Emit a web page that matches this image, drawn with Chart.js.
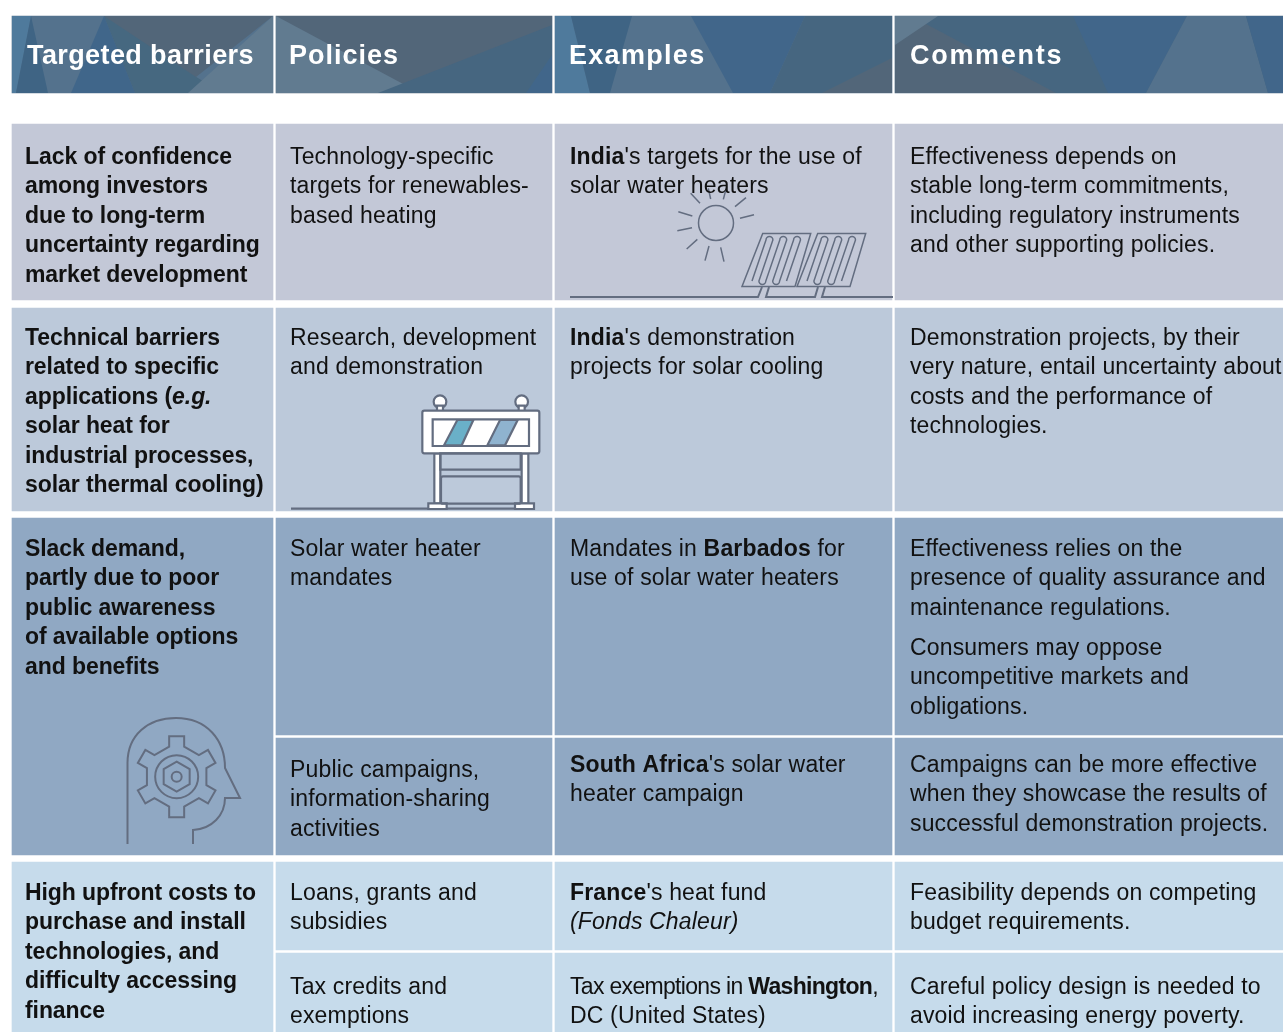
<!DOCTYPE html>
<html>
<head>
<meta charset="utf-8">
<title>Targeted barriers</title>
<script src="https://cdn.jsdelivr.net/npm/chart.js@4"></script>
<style>
  html, body { margin: 0; padding: 0; background: #fff; }
  canvas { display: block; }
</style>
</head>
<body>
<canvas id="tabel" width="1283" height="1032"></canvas>
<script>
// Isi tabel
const headers = ['Targeted barriers', 'Policies', 'Examples', 'Comments'];

const barriers = [
  ['Lack of confidence', 'among investors', 'due to long-term', 'uncertainty regarding', 'market development'],
  ['Technical barriers', 'related to specific', 'applications (_e.g._', 'solar heat for', 'industrial processes,', 'solar thermal cooling)'],
  ['Slack demand,', 'partly due to poor', 'public awareness', 'of available options', 'and benefits'],
  ['High upfront costs to', 'purchase and install', 'technologies, and', 'difficulty accessing', 'finance']
];

const policies = [
  ['Technology-specific', 'targets for renewables-', 'based heating'],
  ['Research, development', 'and demonstration'],
  ['Solar water heater', 'mandates'],
  ['Public campaigns,', 'information-sharing', 'activities'],
  ['Loans, grants and', 'subsidies'],
  ['Tax credits and', 'exemptions']
];

const examples = [
  ["**India**'s targets for the use of", 'solar water heaters'],
  ["**India**'s demonstration", 'projects for solar cooling'],
  ['Mandates in **Barbados** for', 'use of solar water heaters'],
  ["**South Africa**'s solar water", 'heater campaign'],
  ["**France**'s heat fund", '_(Fonds Chaleur)_'],
  ['Tax exemptions in **Washington**,', 'DC (United States)']
];

const comments = [
  ['Effectiveness depends on', 'stable long-term commitments,', 'including regulatory instruments', 'and other supporting policies.'],
  ['Demonstration projects, by their', 'very nature, entail uncertainty about', 'costs and the performance of', 'technologies.'],
  ['Effectiveness relies on the', 'presence of quality assurance and', 'maintenance regulations.'],
  ['Consumers may oppose', 'uncompetitive markets and', 'obligations.'],
  ['Campaigns can be more effective', 'when they showcase the results of', 'successful demonstration projects.'],
  ['Feasibility depends on competing', 'budget requirements.'],
  ['Careful policy design is needed to', 'avoid increasing energy poverty.']
];

// Kolom dan baris tabel, satuan sumbu sama dengan piksel gambar
const columnLeft = [12, 276, 555, 895];
const columnRight = [273, 552, 892, 1283];
const headerSpan = [16, 93];
const spansFirst = [[124, 300], [308, 511], [518, 855], [862, 1032]];
const spansOther = [[124, 300], [308, 511], [518, 735], [738, 855], [862, 950], [953, 1032]];

const rowColors = ['#c3c8d7', '#bcc9da', '#90a8c3', '#c6dbeb'];
const otherColors = ['#c3c8d7', '#bcc9da', '#90a8c3', '#90a8c3', '#c6dbeb', '#c6dbeb'];
const headerColors = ['#54728d', '#526679', '#54728d', '#466680'];
const ink = '#636d80';

// Segitiga latar kepala tabel
const headerShapes = [
  ['#4f7a9c', [[12, 16], [31, 16], [16, 93], [12, 93]]],
  ['#3f6484', [[31, 16], [48, 93], [16, 93]]],
  ['#526679', [[104, 16], [273, 16], [196, 77], [222, 93], [135, 93]]],
  ['#466880', [[104, 16], [135, 93], [222, 93], [196, 77]]],
  ['#40668a', [[104, 16], [135, 93], [71, 93]]],
  ['#617b90', [[273, 16], [273, 93], [188, 93]]],
  ['#617b90', [[276, 16], [420, 93], [276, 93]]],
  ['#466680', [[552, 25], [552, 93], [378, 93]]],
  ['#41668a', [[552, 55], [552, 93], [526, 93]]],
  ['#4f7a9c', [[555, 16], [571, 16], [590, 93], [555, 93]]],
  ['#3f6484', [[571, 16], [632, 16], [610, 93], [590, 93]]],
  ['#41668a', [[691, 16], [805, 16], [770, 93], [733, 93]]],
  ['#466680', [[805, 16], [892, 16], [892, 93], [770, 93]]],
  ['#526679', [[892, 58], [892, 93], [822, 93]]],
  ['#526679', [[911, 16], [1056, 93], [895, 93], [895, 45]]],
  ['#617b90', [[895, 16], [938, 16], [895, 45]]],
  ['#41668a', [[1073, 16], [1187, 16], [1146, 93], [1108, 93]]],
  ['#54728d', [[1187, 16], [1246, 16], [1268, 93], [1146, 93]]],
  ['#41668a', [[1246, 16], [1283, 16], [1283, 93], [1268, 93]]]
];

// Dataset batang mengambang: satu dataset per kolom
function buildColumn(i, spans, colors) {
  const mid = (columnLeft[i] + columnRight[i]) / 2;
  return {
    label: headers[i],
    data: [{ x: mid, y: headerSpan }].concat(spans.map(s => ({ x: mid, y: s }))),
    backgroundColor: [headerColors[i]].concat(colors),
    barThickness: columnRight[i] - columnLeft[i],
    grouped: false,
    borderWidth: 0
  };
}

function poly(ctx, sc, pts) {
  ctx.beginPath();
  pts.forEach((p, i) => {
    const x = sc.x.getPixelForValue(p[0]), y = sc.y.getPixelForValue(p[1]);
    if (i === 0) ctx.moveTo(x, y); else ctx.lineTo(x, y);
  });
}

const bodyFont = '"Liberation Sans", Arial, sans-serif';

// Tulis satu baris dengan **tebal** dan _miring_
function writeLine(ctx, line, x, y, size, allBold) {
  let cx = x;
  line.split(/(\*\*[^*]+\*\*|_[^_]+_)/).filter(Boolean).forEach(part => {
    let style = allBold ? 'bold ' : '';
    let t = part;
    if (part.startsWith('**')) { style = 'bold '; t = part.slice(2, -2); }
    else if (part.startsWith('_')) { style = (allBold ? 'italic bold ' : 'italic '); t = part.slice(1, -1); }
    ctx.font = style + size + 'px ' + bodyFont;
    ctx.fillText(t, cx, y);
    cx += ctx.measureText(t).width;
  });
}

function writeBlock(ctx, lines, x, y, bold) {
  lines.forEach((l, i) => {
    // baris Washington di gambar asli lebih rapat
    ctx.letterSpacing = l.includes('Washington') ? '-0.68px' : (bold ? '-0.08px' : '0.16px');
    writeLine(ctx, l, x, y + i * 29.4, 23, bold);
  });
  ctx.letterSpacing = '0px';
}

function drawSolar(ctx) {
  ctx.strokeStyle = ink;
  ctx.lineWidth = 1.5;
  ctx.beginPath();
  ctx.arc(716, 223, 17.5, 0, Math.PI * 2);
  const rays = [[392, 70, 420, 100], [445, 55, 452, 87], [500, 50, 490, 88], [525, 110, 558, 83], [540, 145, 582, 134],
    [355, 125, 397, 138], [352, 182, 396, 173], [380, 237, 412, 208], [447, 228, 435, 272], [482, 232, 492, 275]];
  rays.forEach(r => {
    ctx.moveTo(560 + r[0] / 3, 170 + r[1] / 3);
    ctx.lineTo(560 + r[2] / 3, 170 + r[3] / 3);
  });
  ctx.stroke();
  // dua panel
  [0, 55].forEach(dx => {
    ctx.beginPath();
    ctx.moveTo(762.7 + dx, 233.5);
    ctx.lineTo(810.7 + dx, 233.5);
    ctx.lineTo(795 + dx, 286.5);
    ctx.lineTo(742 + dx, 286.5);
    ctx.closePath();
    ctx.stroke();
    // pipa berkelok
    const step = 6.9;
    ctx.beginPath();
    ctx.moveTo(752 + dx, 281);
    for (let k = 0; k < 6; k++) {
      const goingUp = k % 2 === 0;
      const bx = 752 + dx + k * step, tx = 766 + dx + k * step;
      if (goingUp) {
        ctx.lineTo(tx, 240);
        if (k < 5) ctx.arc(tx + step / 2, 240, step / 2, Math.PI, 0);
      } else {
        ctx.lineTo(bx, 281);
        if (k < 5) ctx.arc(bx + step / 2, 281, step / 2, Math.PI, 0, true);
      }
    }
    ctx.stroke();
  });
  ctx.lineWidth = 2;
  ctx.beginPath();
  ctx.moveTo(570, 297);
  ctx.lineTo(758, 297);
  ctx.lineTo(762, 287);
  ctx.moveTo(769, 287);
  ctx.lineTo(766, 297);
  ctx.lineTo(815, 297);
  ctx.lineTo(818, 287);
  ctx.moveTo(825, 287);
  ctx.lineTo(822, 297);
  ctx.lineTo(893, 297);
  ctx.stroke();
}

function drawBarrier(ctx) {
  const bx = v => 280 + v / 3, by = v => 385 + v / 3;
  const rect = (a, b, c, d, fill, r) => {
    ctx.beginPath();
    ctx.roundRect(bx(a), by(b), (c - a) / 3, (d - b) / 3, r || 0);
    if (fill) { ctx.fillStyle = fill; ctx.fill(); }
    ctx.stroke();
  };
  const circ = (a, b, r) => {
    ctx.beginPath();
    ctx.arc(bx(a), by(b), r / 3, 0, Math.PI * 2);
    ctx.fillStyle = '#fff';
    ctx.fill();
    ctx.stroke();
  };
  ctx.strokeStyle = ink;
  ctx.lineWidth = 2.2;
  ctx.beginPath();
  ctx.moveTo(bx(33), by(371));
  ctx.lineTo(bx(705), by(371));
  ctx.stroke();
  circ(480, 50, 19);
  circ(725, 50, 19);
  rect(471, 62, 489, 80, '#fff');
  rect(716, 62, 734, 80, '#fff');
  rect(463, 205, 481, 356, '#fff');
  rect(725, 205, 745, 356, '#fff');
  rect(445, 355, 500, 372, '#fff');
  rect(705, 355, 762, 372, '#fff');
  rect(427, 77, 778, 205, '#fff', 2);
  rect(458, 103, 747, 183, '#fff');
  rect(481, 205, 722, 254);
  rect(483, 274, 722, 356, null, 2);
  ctx.fillStyle = '#6ab0c8';
  ctx.beginPath();
  [[532, 105], [580, 105], [545, 181], [492, 181]].forEach(p => ctx.lineTo(bx(p[0]), by(p[1])));
  ctx.closePath();
  ctx.fill();
  ctx.stroke();
  ctx.fillStyle = '#8fb3cf';
  ctx.beginPath();
  [[660, 105], [713, 105], [675, 181], [622, 181]].forEach(p => ctx.lineTo(bx(p[0]), by(p[1])));
  ctx.closePath();
  ctx.fill();
  ctx.stroke();
}

function drawHead(ctx) {
  const cx = 100 + 230 / 3, cy = 700 + 230 / 3;
  ctx.strokeStyle = ink;
  ctx.lineWidth = 2;
  ctx.beginPath();
  ctx.moveTo(127.5, 844);
  ctx.lineTo(127.5, 763);
  ctx.bezierCurveTo(127.5, 735, 148, 718, 176, 718);
  ctx.bezierCurveTo(207, 718, 225, 740, 225, 768);
  ctx.lineTo(240, 798);
  ctx.lineTo(225, 798);
  ctx.bezierCurveTo(225, 815, 212, 829, 193, 830);
  ctx.lineTo(193, 844);
  ctx.stroke();
  // roda gigi
  ctx.beginPath();
  for (let k = 0; k < 6; k++) {
    const a = -Math.PI / 2 + k * Math.PI / 3;
    const u = [Math.cos(a), Math.sin(a)], v = [-Math.sin(a), Math.cos(a)];
    const at = (r, w) => [cx + u[0] * r + v[0] * w, cy + u[1] * r + v[1] * w];
    const p = [at(30, -7.5), at(40.5, -7.5), at(40.5, 7.5), at(30, 7.5)];
    p.forEach((q, i) => (k === 0 && i === 0) ? ctx.moveTo(q[0], q[1]) : ctx.lineTo(q[0], q[1]));
  }
  ctx.closePath();
  ctx.stroke();
  ctx.beginPath();
  ctx.arc(cx, cy, 21.5, 0, Math.PI * 2);
  ctx.stroke();
  ctx.beginPath();
  for (let k = 0; k < 6; k++) {
    const a = -Math.PI / 2 + k * Math.PI / 3;
    ctx.lineTo(cx + Math.cos(a) * 15, cy + Math.sin(a) * 15);
  }
  ctx.closePath();
  ctx.stroke();
  ctx.beginPath();
  ctx.arc(cx, cy, 5, 0, Math.PI * 2);
  ctx.stroke();
}

// Plugin untuk hiasan dan teks di atas batang
const tablePlugin = {
  id: 'tablePlugin',
  afterDatasetsDraw(chart) {
    const ctx = chart.ctx;
    const sc = chart.scales;
    ctx.save();

    // latar kepala
    headerShapes.forEach(s => {
      ctx.fillStyle = s[0];
      poly(ctx, sc, s[1]);
      ctx.fill();
    });

    drawSolar(ctx);
    drawBarrier(ctx);
    drawHead(ctx);

    // kepala tabel, jarak huruf disetel per judul
    const headX = [27, 289, 569, 910];
    const headSpacing = ['0.4px', '1px', '1.3px', '1.7px'];
    ctx.fillStyle = '#fff';
    ctx.textBaseline = 'alphabetic';
    ctx.font = 'bold 27px ' + bodyFont;
    headers.forEach((h, i) => {
      ctx.letterSpacing = headSpacing[i];
      ctx.fillText(h, headX[i], 64);
    });
    ctx.letterSpacing = '0px';

    // isi
    ctx.fillStyle = '#111';
    [164, 345, 556, 900].forEach((y, i) => writeBlock(ctx, barriers[i], 25, y, true));
    [164, 345, 556, 777, 900, 994].forEach((y, i) => writeBlock(ctx, policies[i], 290, y, false));
    [164, 345, 556, 772, 900, 994].forEach((y, i) => writeBlock(ctx, examples[i], 570, y, false));
    [164, 345, 556, 655, 772, 900, 994].forEach((y, i) => writeBlock(ctx, comments[i], 910, y, false));
    ctx.restore();
  }
};

const grafik = new Chart(document.getElementById('tabel'), {
  type: 'bar',
  data: {
    datasets: [
      buildColumn(0, spansFirst, rowColors),
      buildColumn(1, spansOther, otherColors),
      buildColumn(2, spansOther, otherColors),
      buildColumn(3, spansOther, otherColors)
    ]
  },
  options: {
    responsive: false,
    animation: false,
    layout: { padding: 0 },
    plugins: { legend: { display: false }, tooltip: { enabled: false } },
    scales: {
      x: { type: 'linear', min: 0, max: 1283, offset: false, display: false },
      y: { type: 'linear', min: 0, max: 1032, reverse: true, display: false }
    }
  },
  plugins: [tablePlugin]
});
</script>
</body>
</html>
